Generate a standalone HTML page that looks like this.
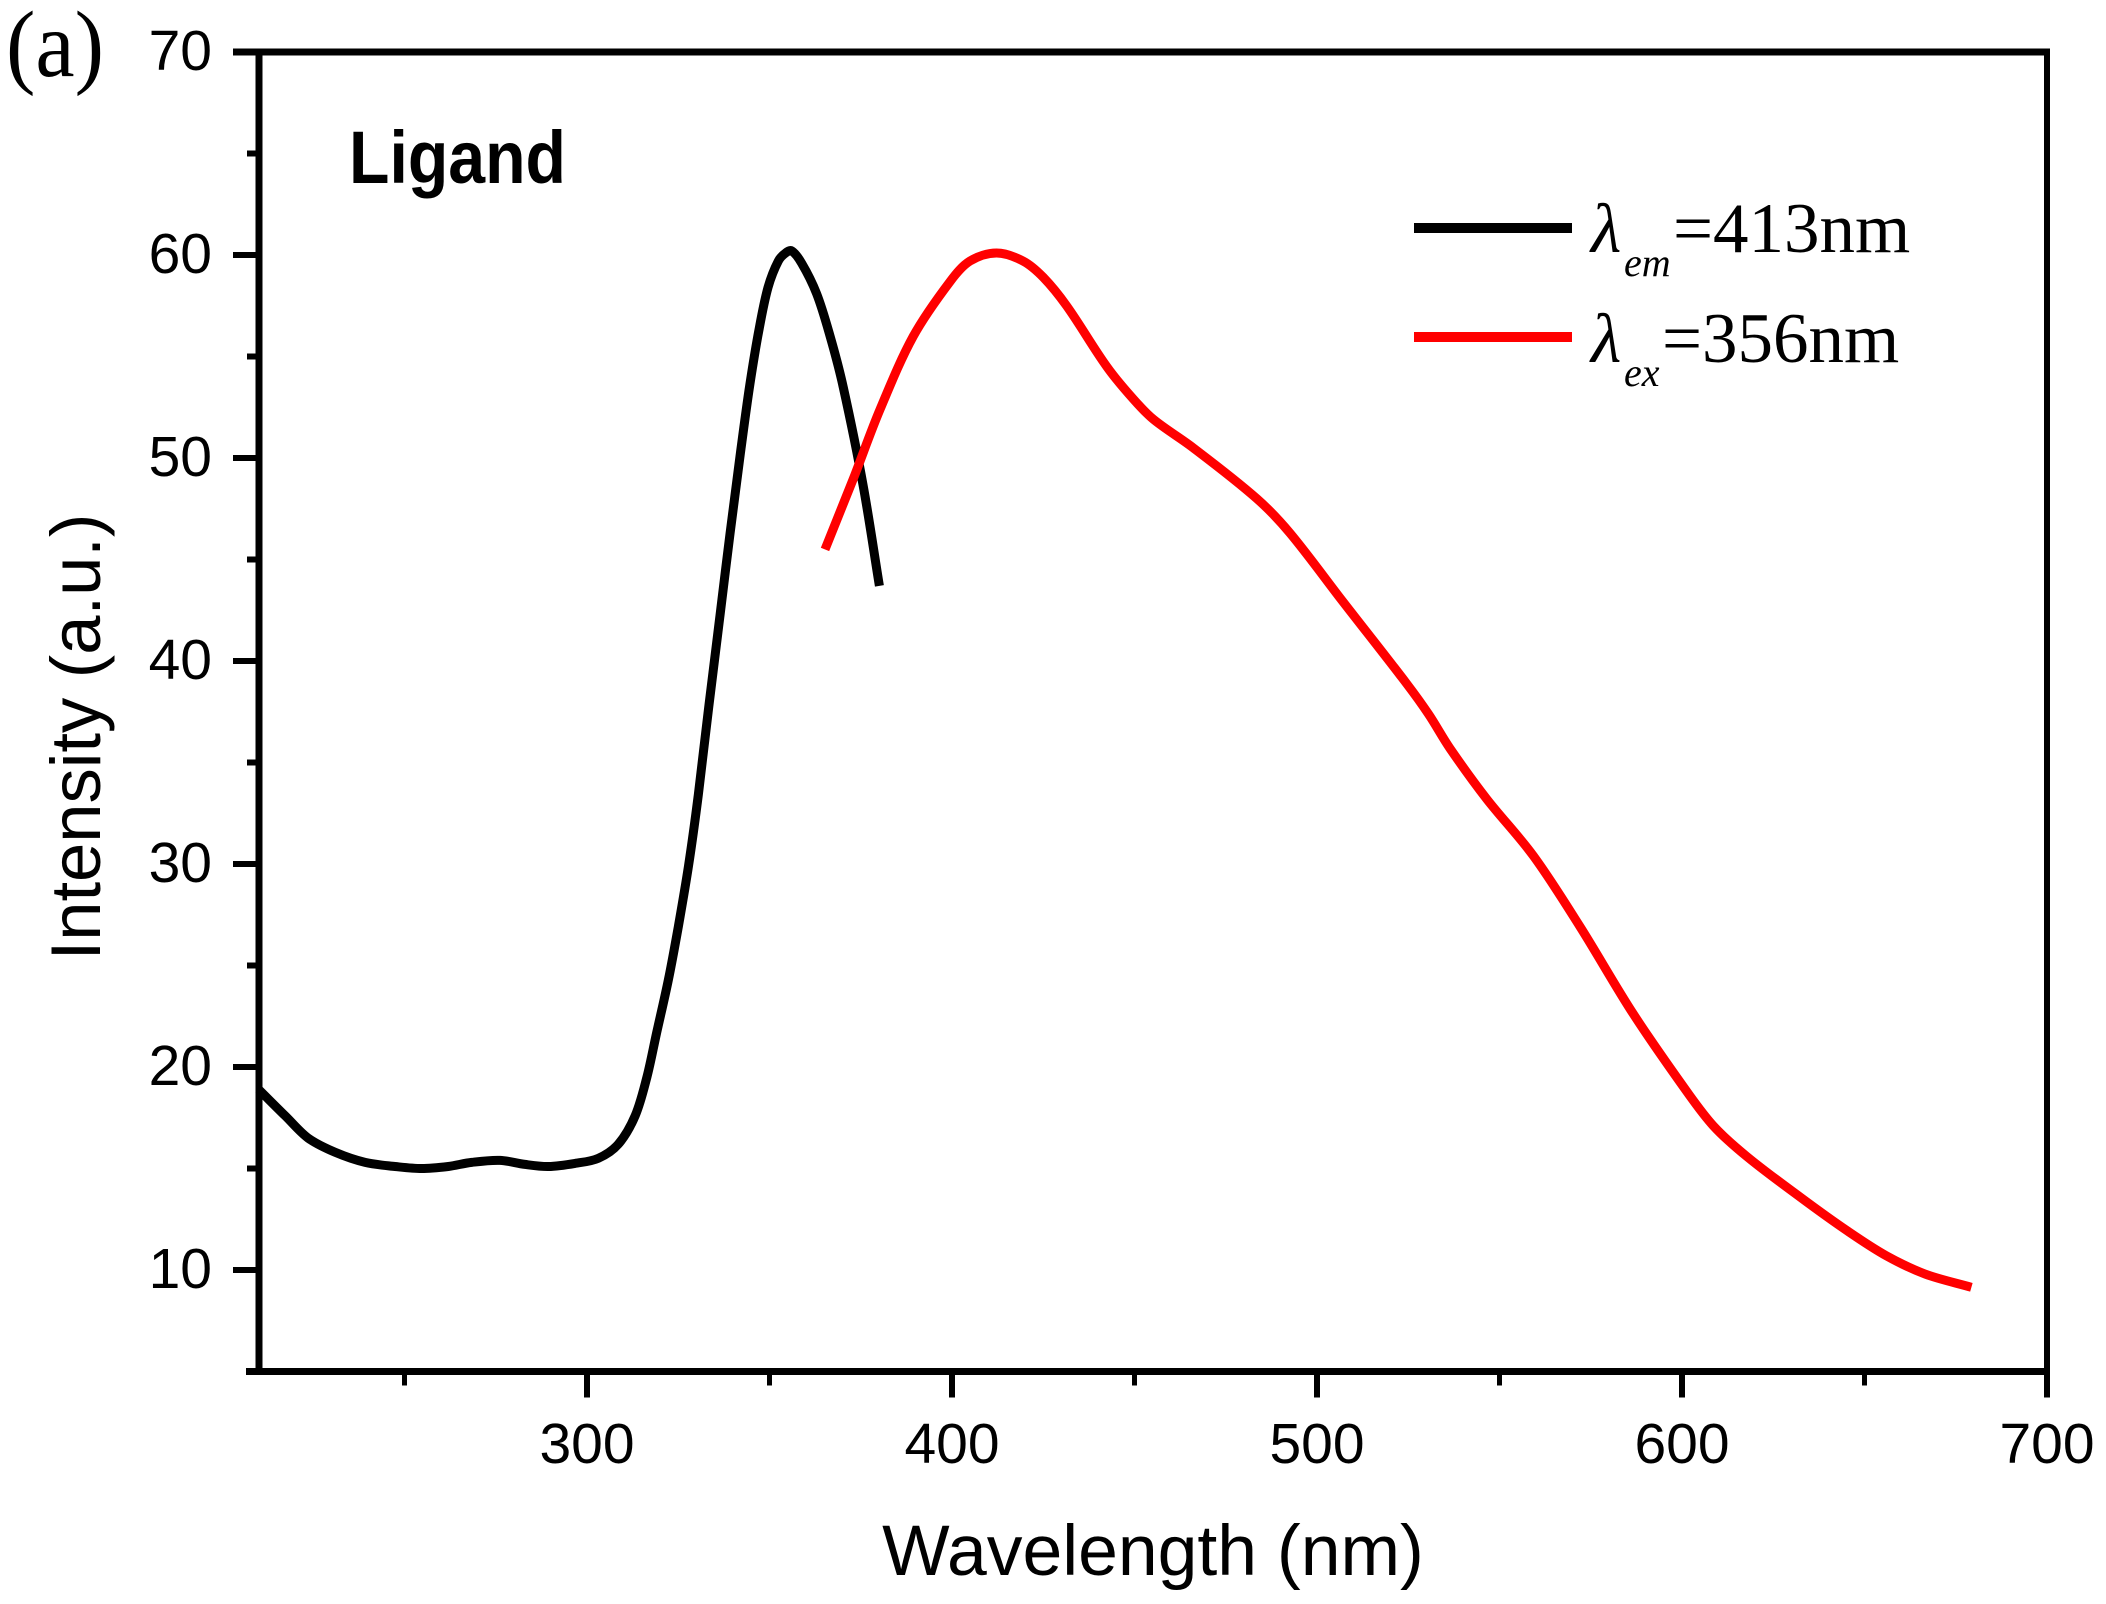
<!DOCTYPE html>
<html lang="en">
<head>
<meta charset="utf-8">
<title>Ligand excitation and emission spectra</title>
<style>
  html, body { margin: 0; padding: 0; background: #fff; }
  body { width: 2106px; height: 1604px; overflow: hidden; }
  svg { display: block; }
  .sans { font-family: "Liberation Sans", sans-serif; fill: #000; }
  .serif { font-family: "Liberation Serif", serif; fill: #000; }
</style>
</head>
<body>
<svg id="chart" xmlns="http://www.w3.org/2000/svg" width="2106" height="1604" viewBox="0 0 2106 1604">
  <rect x="0" y="0" width="2106" height="1604" fill="#fff"/>
  <text class="serif" x="6" y="76" font-size="94" textLength="98" lengthAdjust="spacingAndGlyphs">(a)</text>
  <text class="sans" x="349" y="183" font-size="74" font-weight="bold" textLength="217" lengthAdjust="spacingAndGlyphs">Ligand</text>
  <g id="marks"></g>
  <g id="axes"></g>
  <text class="sans" x="1153" y="1575" font-size="71.5" text-anchor="middle">Wavelength (nm)</text>
  <text class="sans" transform="translate(100,737) rotate(-90)" font-size="70.5" text-anchor="middle">Intensity (a.u.)</text>
  <g>
    <rect x="1414" y="223" width="158" height="10" fill="#000"/>
    <text class="serif" x="1591" y="252" font-size="70" font-style="italic">&#955;</text>
    <text class="serif" x="1624" y="276" font-size="40" font-style="italic">em</text>
    <text class="serif" x="1673" y="252" font-size="71">=413nm</text>
    <rect x="1414" y="332" width="158" height="10" fill="#f00"/>
    <text class="serif" x="1591" y="362" font-size="70" font-style="italic">&#955;</text>
    <text class="serif" x="1624" y="386" font-size="40" font-style="italic">ex</text>
    <text class="serif" x="1662" y="362" font-size="71">=356nm</text>
  </g>
</svg>
<script>
const emissionWavelengths = [210, 217.3, 223.6, 231, 239.2, 247.4, 254.7, 262, 268.4, 276.2, 283, 289.4, 296.7, 303.1, 308.6, 313.2, 316.4, 319.1, 322.3, 325, 327.8, 330.5, 333.4, 336.4, 339.2, 342, 344.6, 347.2, 349.6, 352.4, 354.4, 356.1, 358.8, 362.9, 366.6, 370.2, 375.7, 380.1];
const emissionValues = [18.9, 17.6, 16.5, 15.8, 15.3, 15.1, 15.0, 15.1, 15.3, 15.4, 15.2, 15.1, 15.25, 15.5, 16.2, 17.6, 19.5, 21.7, 24.3, 26.9, 29.9, 33.4, 37.8, 42.2, 46.3, 50.2, 53.6, 56.4, 58.4, 59.7, 60.1, 60.2, 59.6, 58.1, 56.0, 53.5, 48.6, 43.7];
const excitationWavelengths = [365.2, 373, 380.3, 389.4, 399.5, 404.9, 412.2, 419.5, 425, 431.4, 442.4, 449.7, 455.2, 466.1, 483.5, 492.6, 507.2, 524.5, 530.5, 536.4, 546.5, 559.3, 572.1, 586.7, 601.3, 608.6, 617.7, 632.3, 645.5, 656, 666.6, 679.3];
const excitationValues = [45.5, 49.0, 52.4, 56.0, 58.7, 59.7, 60.1, 59.7, 58.9, 57.5, 54.5, 52.9, 51.9, 50.5, 48.0, 46.3, 42.9, 38.9, 37.4, 35.7, 33.2, 30.4, 26.9, 22.6, 18.8, 17.1, 15.6, 13.6, 11.9, 10.7, 9.8, 9.15];
const xMajorTicks = [300, 400, 500, 600, 700];
const xMinorTicks = [250, 350, 450, 550, 650];
const yMajorTicks = [10, 20, 30, 40, 50, 60, 70];
const yMinorTicks = [5, 15, 25, 35, 45, 55, 65];

const SVG_NS = 'http://www.w3.org/2000/svg';
const marks = document.getElementById('marks');
const axes = document.getElementById('axes');

function xScale(w) { return 587 + (w - 300) * 3.65; }
function yScale(v) { return 255 + (60 - v) * 20.3; }

function chord(a, b) { return Math.hypot(b[0] - a[0], b[1] - a[1]) || 1; }

function tangent(prev, next, spanA, spanB) {
  const s = spanA + spanB;
  return [(next[0] - prev[0]) / s, (next[1] - prev[1]) / s];
}

function smoothPath(xs, ys) {
  const pts = xs.map((w, i) => [xScale(w), yScale(ys[i])]);
  let d = 'M' + pts[0][0].toFixed(1) + ' ' + pts[0][1].toFixed(1);
  for (let i = 0; i < pts.length - 1; i++) {
    const p0 = pts[Math.max(i - 1, 0)];
    const p1 = pts[i];
    const p2 = pts[i + 1];
    const p3 = pts[Math.min(i + 2, pts.length - 1)];
    const seg = chord(p1, p2);
    const t1 = tangent(p0, p2, i > 0 ? chord(p0, p1) : 0, seg);
    const t2 = tangent(p1, p3, seg, i + 2 < pts.length ? chord(p2, p3) : 0);
    const c1x = p1[0] + t1[0] * seg / 3;
    const c1y = p1[1] + t1[1] * seg / 3;
    const c2x = p2[0] - t2[0] * seg / 3;
    const c2y = p2[1] - t2[1] * seg / 3;
    d += 'C' + c1x.toFixed(1) + ' ' + c1y.toFixed(1) + ' ' + c2x.toFixed(1) + ' ' + c2y.toFixed(1) + ' ' + p2[0].toFixed(1) + ' ' + p2[1].toFixed(1);
  }
  return d;
}

function seriesPath(xs, ys, color) {
  const el = document.createElementNS(SVG_NS, 'path');
  el.setAttribute('d', smoothPath(xs, ys));
  el.setAttribute('fill', 'none');
  el.setAttribute('stroke', color);
  el.setAttribute('stroke-width', '9');
  el.setAttribute('stroke-linejoin', 'round');
  marks.appendChild(el);
  return el;
}

const emissionLine = seriesPath(emissionWavelengths, emissionValues, '#000');



const excitationLine = seriesPath(excitationWavelengths, excitationValues, '#f00');



function bar(x, y, w, h) {
  const el = document.createElementNS(SVG_NS, 'rect');
  el.setAttribute('x', x);
  el.setAttribute('y', y);
  el.setAttribute('width', w);
  el.setAttribute('height', h);
  el.setAttribute('fill', '#000');
  axes.appendChild(el);
  return el;
}

function label(str, x, y, anchor) {
  const el = document.createElementNS(SVG_NS, 'text');
  el.setAttribute('class', 'sans');
  el.setAttribute('x', x);
  el.setAttribute('y', y);
  el.setAttribute('font-size', '57');
  el.setAttribute('text-anchor', anchor);
  el.textContent = str;
  axes.appendChild(el);
  return el;
}

const axisTop = yScale(70);
const axisBottom = yScale(5);
const axisLeft = 259;
const axisRight = xScale(700);

const leftAxis = bar(axisLeft - 3.5, axisTop - 3, 7, axisBottom - axisTop + 6);



const rightAxis = bar(axisRight - 3, axisTop - 3, 6, axisBottom - axisTop + 29);



const topAxis = bar(233, axisTop - 3.5, axisRight + 3 - 233, 7);



const bottomAxis = bar(246, axisBottom - 3.5, axisRight + 3 - 246, 7);



xMajorTicks.forEach(function (t) {
  const tick = bar(xScale(t) - 3, axisBottom, 6, 26);
  
  
  const text = label(String(t), xScale(t), 1463, 'middle');
  
  
});

xMinorTicks.forEach(function (t) {
  const tick = bar(xScale(t) - 2.5, axisBottom, 5, 14);
  
  
});

yMajorTicks.forEach(function (t) {
  const tick = bar(233, yScale(t) - 3, axisLeft - 233, 6);
  
  
  const text = label(String(t), 212, yScale(t) + 18, 'end');
  
  
});

yMinorTicks.forEach(function (t) {
  const tick = bar(247, yScale(t) - 3, axisLeft - 247, 6);
  
  
});
</script>
</body>
</html>
